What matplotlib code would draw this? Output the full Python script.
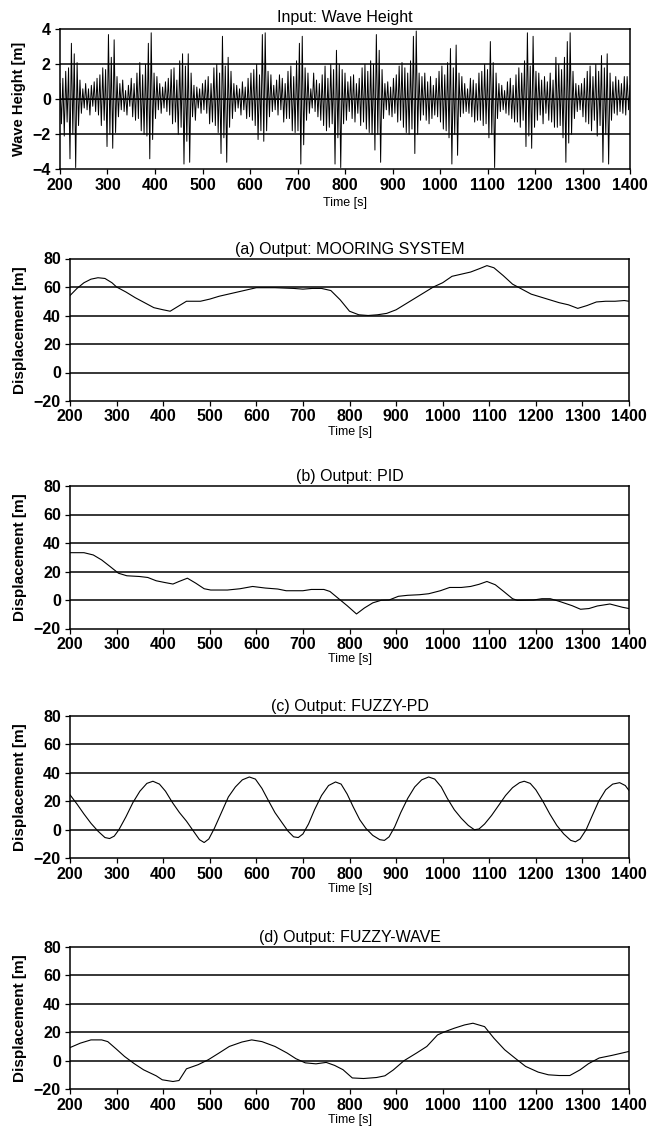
import matplotlib
matplotlib.use("Agg")
import matplotlib.pyplot as plt
import numpy as np

plt.rcParams['font.family'] = ['Liberation Sans', 'DejaVu Sans']

# ---- input wave height: extrema read every 3 s, 200..1400 s ----
wave_t0, wave_dt = 200, 3
wave_h = [
    # 200-257
    0.9, -1.4, 1.2, -2.1, 1.6, -1.3, 1.8, -3.4, 3.2, -2.0, 2.6, -3.9, 2.1, -1.5, 1.1, -0.8, 0.6, -0.5, 0.9, -0.6,
    # 260-317
    0.6, -0.9, 0.8, -0.4, 1.0, -0.7, 1.2, -0.9, 1.4, -1.5, 1.8, -1.2, 1.7, -2.7, 3.7, -2.0, 2.4, -2.8, 3.4, -1.9,
    # 320-377
    1.3, -1.0, 0.9, -0.6, 1.1, -0.7, 0.5, -0.9, 0.8, -0.4, 1.2, -1.0, 0.9, -1.2, 1.5, -1.1, 2.1, -1.8, 1.4, -2.0,
    # 380-437
    2.0, -2.1, 3.2, -3.4, 3.8, -2.3, 1.5, -1.1, 1.3, -0.6, 0.9, -0.8, 0.7, -0.5, 1.0, -0.7, 1.2, -0.9, 1.7, -1.4,
    # 440-497
    1.8, -1.3, 1.1, -2.0, 2.2, -1.6, 2.6, -3.7, 1.9, -2.4, 2.6, -3.6, 1.5, -1.0, 0.8, -1.2, 0.7, -0.5, 0.6, -0.8,
    # 500-557
    0.9, -0.6, 1.1, -0.8, 1.3, -1.4, 0.9, -1.3, 1.8, -1.5, 2.0, -1.9, 1.5, -3.1, 3.6, -2.2, 1.9, -3.6, 2.4, -1.6,
    # 560-617
    1.6, -1.1, 0.9, -0.7, 0.8, -0.5, 0.6, -0.9, 1.0, -0.6, 0.7, -1.1, 1.2, -1.0, 1.5, -1.2, 1.7, -1.5, 2.0, -2.3,
    # 620-677
    1.4, -1.8, 3.7, -2.4, 3.8, -1.8, 1.6, -1.0, 1.4, -0.7, 0.8, -0.6, 1.1, -0.9, 1.4, -0.6, 1.2, -1.3, 0.9, -1.1,
    # 680-737
    1.6, -1.1, 1.9, -1.8, 1.3, -1.9, 2.2, -1.8, 3.2, -3.7, 3.6, -2.6, 1.8, -1.2, 1.5, -0.8, 0.6, -0.5, 1.5, -0.7,
    # 740-797
    1.1, -1.0, 0.9, -1.2, 1.4, -1.5, 1.9, -1.8, 1.2, -1.6, 2.0, -1.4, 1.7, -3.7, 2.8, -2.2, 2.0, -3.9, 1.7, -1.4,
    # 800-857
    1.5, -1.2, 1.0, -0.7, 1.3, -1.1, 1.4, -1.3, 0.9, -0.8, 1.2, -1.5, 1.8, -1.3, 2.0, -1.7, 1.6, -1.9, 2.2, -2.0,
    # 860-917
    2.0, -2.9, 3.7, -2.0, 2.8, -3.6, 1.7, -1.1, 0.9, -0.6, 1.0, -0.9, 0.7, -1.0, 1.2, -0.8, 1.4, -1.3, 1.9, -1.2,
    # 920-977
    2.1, -1.6, 1.8, -1.9, 1.5, -2.0, 2.2, -1.7, 3.6, -3.1, 3.9, -2.0, 1.5, -1.2, 1.3, -0.9, 1.5, -1.2, 1.0, -1.4,
    # 980-1037
    1.3, -1.1, 0.8, -0.9, 1.2, -1.0, 1.6, -1.3, 1.9, -1.7, 1.4, -1.8, 2.1, -2.2, 2.9, -3.7, 1.8, -2.0, 3.1, -3.2,
    # 1040-1097
    1.5, -1.0, 1.3, -0.8, 0.9, -0.7, 0.6, -0.8, 1.2, -1.0, 1.1, -1.3, 0.9, -1.2, 1.5, -1.2, 1.6, -1.5, 2.0, -1.4,
    # 1100-1157
    1.7, -2.2, 3.3, -2.0, 2.1, -3.9, 1.5, -1.1, 0.9, -0.7, 0.8, -0.6, 0.5, -0.8, 1.0, -0.9, 1.2, -1.1, 0.8, -1.3,
    # 1160-1217
    1.4, -1.3, 1.8, -1.6, 1.5, -1.2, 2.2, -2.7, 3.8, -2.1, 1.9, -2.8, 3.6, -1.6, 1.6, -1.2, 1.5, -0.9, 1.1, -1.4,
    # 1220-1277
    1.3, -0.8, 1.0, -1.2, 1.5, -1.3, 1.1, -1.6, 2.4, -1.6, 2.0, -1.5, 1.7, -2.2, 2.4, -3.6, 3.3, -2.5, 3.8, -2.0,
    # 1280-1337
    1.6, -1.1, 0.9, -0.7, 0.8, -0.6, 0.9, -1.0, 1.2, -1.3, 1.6, -1.4, 1.9, -1.8, 1.3, -1.2, 2.0, -2.1, 1.6, -1.5,
    # 1340-1397
    2.5, -3.6, 1.8, -2.0, 2.6, -3.7, 1.5, -1.2, 1.0, -0.8, 1.3, -0.9, 1.1, -0.7, 0.9, -0.8, 1.3, -0.9, 1.3, -0.6,
    0.8,
]
wave_time = wave_t0 + wave_dt * np.arange(len(wave_h))

# ---- (a) mooring system ----
a_t = [200, 215, 230, 245, 260, 275, 290, 300, 320, 340, 360, 380, 400, 415, 430, 450, 480, 500,
       520, 540, 560, 580, 600, 640, 680, 700, 720, 740, 760, 780, 800, 820, 840, 860, 880, 900,
       920, 940, 960, 980, 1000, 1020, 1040, 1060, 1080, 1095, 1110, 1130, 1150, 1170, 1190, 1210,
       1230, 1250, 1270, 1290, 1310, 1330, 1350, 1370, 1390, 1400]
a_v = [54, 59, 63, 65.5, 66.5, 66, 63, 60, 56.5, 52.5, 49, 45.5, 44, 43, 46, 50, 50, 51.5,
       53.5, 55, 56.5, 58, 59.5, 59.5, 59, 58.5, 59, 59, 57.5, 51, 43, 40.5, 40, 40.5, 41.5, 44,
       48, 52, 56, 60, 63, 67.5, 69, 70.5, 73, 75, 73.5, 68, 62, 58.5, 55, 53, 51, 49, 47.5, 45,
       47, 49.5, 50, 50, 50.5, 50]

# ---- (b) PID ----
b_t = [200, 230, 250, 268, 286, 304, 322, 349, 367, 385, 403, 421, 434, 452, 470, 488, 502, 538,
       565, 592, 619, 646, 664, 700, 718, 745, 758, 775, 795, 815, 832, 850, 868, 885, 905, 925,
       950, 970, 995, 1015, 1040, 1060, 1078, 1095, 1113, 1131, 1150, 1160, 1195, 1213, 1231, 1250,
       1278, 1296, 1314, 1332, 1359, 1386, 1400]
b_v = [33.2, 33.2, 31.6, 28.1, 23.5, 18.8, 17, 16.5, 15.8, 13.5, 12.3, 11.2, 13, 15.3, 11.8, 7.9, 7, 7,
       7.9, 9.5, 8.4, 7.7, 6.5, 6.5, 7.4, 7.4, 6, 1.4, -4, -9.8, -5.6, -2, -0.2, 0, 2.6, 3.3,
       3.7, 4.4, 6.5, 8.8, 8.8, 9.5, 11, 13, 10.7, 6, 0.9, -0.2, 0, 0.9, 0.9, -0.9,
       -4, -6.5, -6, -4.2, -2.8, -5.1, -6]

# ---- (c) FUZZY-PD ----
c_t = [200, 215, 230, 245, 260, 275, 285, 295, 305, 320, 335, 350, 365, 378, 392, 405, 420, 435,
       450, 465, 478, 488, 498, 510, 525, 540, 555, 570, 585, 598, 612, 625, 640, 655, 668, 680,
       690, 700, 712, 725, 740, 755, 770, 782, 795, 808, 822, 835, 850, 865, 875, 885, 897, 910,
       925, 940, 955, 970, 983, 997, 1010, 1025, 1040, 1055, 1068, 1078, 1090, 1105, 1120, 1135,
       1150, 1165, 1175, 1188, 1200, 1215, 1230, 1245, 1260, 1275, 1285, 1295, 1308, 1320, 1335,
       1350, 1365, 1380, 1392, 1400]
c_v = [24.5, 18, 11, 4.5, -1, -5.5, -6.2, -4.5, 0, 9, 19, 27, 32.5, 34, 32, 27, 19, 12,
       6, -1, -7, -9, -6.5, 1, 12, 23, 30, 35, 37, 35.5, 29, 21, 12, 5, -1, -5,
       -5.5, -3, 4, 14, 24, 31, 33.5, 32, 25, 16, 7, 1, -4, -7, -7.5, -5, 2, 12,
       22, 30, 35, 37, 35.5, 30, 22, 14, 8, 3, 0, 0.5, 4, 10, 17, 24,
       29.5, 33, 34, 32.5, 28, 20, 11, 3, -3, -7.5, -8.5, -6.5, 0, 9, 20,
       28, 32, 33, 31, 27.5]

# ---- (d) FUZZY-WAVE ----
d_t = [200, 222, 245, 268, 281, 299, 317, 338, 358, 385, 398, 421, 434, 450, 475, 497, 520, 542,
       569, 590, 612, 640, 666, 685, 705, 728, 750, 768, 786, 806, 830, 858, 876, 894, 917, 944,
       966, 989, 1005, 1025, 1047, 1065, 1090, 1110, 1133, 1155, 1178, 1205, 1227, 1250, 1273, 1295,
       1313, 1336, 1363, 1400]
d_v = [9.2, 12.3, 14.6, 14.6, 13.4, 8.3, 3, -2.1, -6.4, -10.6, -13.4, -14.6, -13.9, -5.7, -2.8, 0.7, 5.4, 10,
       13.1, 14.6, 13.4, 10, 5.4, 1.4, -1.5, -2.2, -1.2, -3.3, -6.3, -12.1, -12.5, -11.8, -10.6, -6.5, 0, 5.4,
       10, 18.1, 20.4, 22.8, 25.1, 26.3, 23.9, 15.8, 7.7, 1.9, -4, -8, -9.9, -10.4, -10.4, -6.4,
       -2.1, 1.9, 3.7, 6.5]

outputs = [
    ("(a) Output: MOORING SYSTEM", a_t, a_v),
    ("(b) Output: PID", b_t, b_v),
    ("(c) Output: FUZZY-PD", c_t, c_v),
    ("(d) Output: FUZZY-WAVE", d_t, d_v),
]

W, H = 660, 1129
fig = plt.figure(figsize=(W / 100, H / 100), dpi=100)


def box(left, right, top, bottom):
    return [left / W, 1 - bottom / H, (right - left) / W, (bottom - top) / H]


def style(ax, ylim, yticks, grid_lw=1.1):
    ax.set_xlim(200, 1400)
    ax.set_ylim(*ylim)
    ax.set_xticks(np.arange(200, 1401, 100))
    ax.set_yticks(yticks)
    for y in yticks[1:-1]:
        ax.axhline(y, color='black', lw=grid_lw, zorder=1)
    for s in ax.spines.values():
        s.set_linewidth(1.1)
    ax.tick_params(axis='both', direction='out', length=3.6, width=0.9)
    ax.tick_params(axis='x', pad=2.5)
    ax.tick_params(axis='y', pad=3)
    for lab in ax.get_xticklabels() + ax.get_yticklabels():
        lab.set_fontsize(11.5)
        lab.set_fontweight('bold')


# top panel: wave height
ax0 = fig.add_axes(box(60, 630, 29.3, 169.3))
ax0.plot(wave_time, wave_h, color='black', lw=0.7, zorder=2)
style(ax0, (-4, 4), [-4, -2, 0, 2, 4])
ax0.axhline(0, color='black', lw=0.7, zorder=3)
ax0.set_title('Input: Wave Height', fontsize=11.5, pad=5)
ax0.set_xlabel('Time [s]', fontsize=9, labelpad=3)
ax0.set_ylabel('Wave Height [m]', fontsize=10.5, fontweight='bold')
ax0.yaxis.set_label_coords(-0.06, 0.5)

tops = [258.5, 486, 715.7, 946.7]
for (title, t, v), top in zip(outputs, tops):
    ax = fig.add_axes(box(70, 629, top, top + 142.5))
    ax.plot(t, v, color='black', lw=0.8, zorder=3)
    style(ax, (-20, 80), [-20, 0, 20, 40, 60, 80])
    ax.set_title(title, fontsize=11.5, pad=3.5)
    ax.set_xlabel('Time [s]', fontsize=9, labelpad=1)
    ax.set_ylabel('Displacement [m]', fontsize=11, fontweight='bold')
    ax.yaxis.set_label_coords(-0.077, 0.5)

fig.savefig('out.png', dpi=100)
